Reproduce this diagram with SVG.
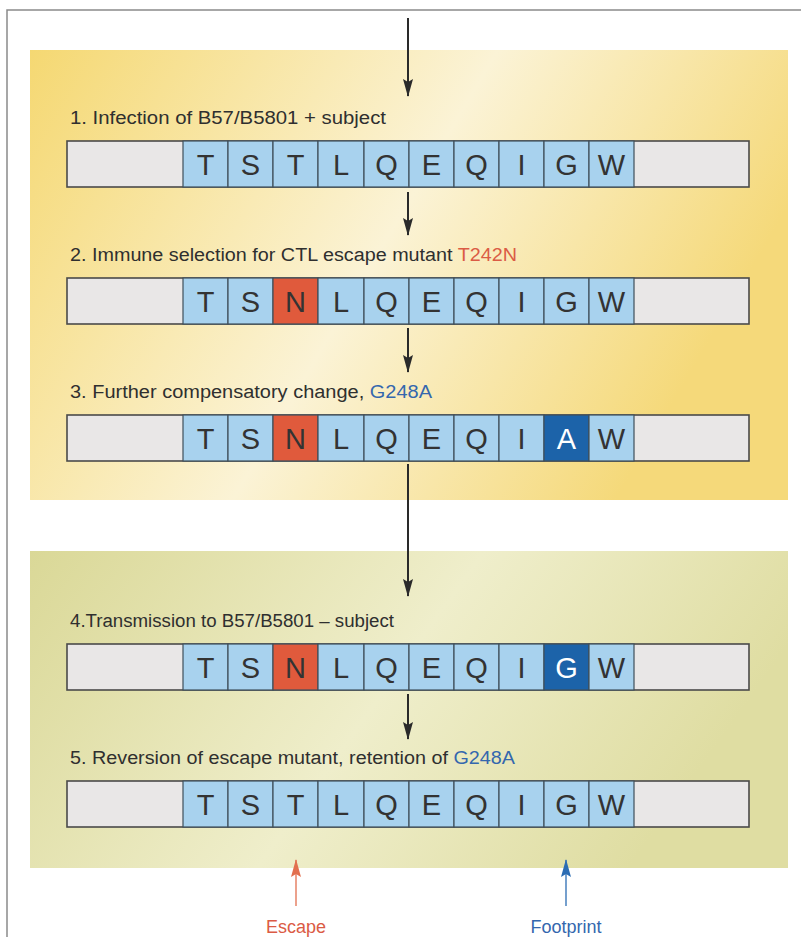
<svg xmlns="http://www.w3.org/2000/svg" width="801" height="937" viewBox="0 0 801 937">
<defs>
<linearGradient id="gY" x1="0" y1="0" x2="1" y2="0.35">
<stop offset="0" stop-color="#F5D872"/>
<stop offset="0.55" stop-color="#FBF3D6"/>
<stop offset="1" stop-color="#F5D97A"/>
</linearGradient>
<linearGradient id="gG" x1="0" y1="0" x2="1" y2="0.3">
<stop offset="0" stop-color="#DAD897"/>
<stop offset="0.55" stop-color="#EFEECB"/>
<stop offset="1" stop-color="#DFDDA2"/>
</linearGradient>
<marker id="ah" markerUnits="userSpaceOnUse" markerWidth="18" markerHeight="10" refX="17" refY="5" orient="auto" viewBox="0 0 18 10">
<path d="M0,0 L18,5 L0,10 L3,5 Z" fill="#2a2a2a"/>
</marker>
<marker id="ahR" markerUnits="userSpaceOnUse" markerWidth="18" markerHeight="10" refX="17" refY="5" orient="auto" viewBox="0 0 18 10">
<path d="M0,0 L18,5 L0,10 L3,5 Z" fill="#E26F4F"/>
</marker>
<marker id="ahB" markerUnits="userSpaceOnUse" markerWidth="18" markerHeight="10" refX="17" refY="5" orient="auto" viewBox="0 0 18 10">
<path d="M0,0 L18,5 L0,10 L3,5 Z" fill="#2B6CB3"/>
</marker>
</defs>
<style>
.frame{stroke:#8a8a8a;stroke-width:1.5;fill:none}
.gray{fill:#E9E7E7;stroke:#4a4a4a;stroke-width:1.6}
.cell{fill:#A8D2EE;stroke:#3f4f5a;stroke-width:1.2}
.esc{fill:#E05A3C;stroke:#3f4f5a;stroke-width:1.2}
.fp{fill:#1C63A9;stroke:#3f4f5a;stroke-width:1.2}
.aa{font-family:"Liberation Sans","DejaVu Sans",sans-serif;font-size:29px;fill:#333;text-anchor:middle}
.aw{fill:#ffffff}
.lab{font-family:"Liberation Sans Narrow","Liberation Sans",sans-serif;font-size:18px;fill:#2f2f2f}
.red{fill:#DB5B45}
.blue{fill:#3467AE}
.conn{stroke:#2a2a2a;stroke-width:2;fill:none;marker-end:url(#ah)}
.bot{font-family:"Liberation Sans","DejaVu Sans",sans-serif;font-size:18px;text-anchor:middle}
</style>
<path class="frame" d="M7,937 V10 H801"/>
<rect x="30" y="50" width="758" height="450" fill="url(#gY)"/>
<rect x="30" y="551" width="758" height="317" fill="url(#gG)"/>

<g id="connectors">
<path class="conn" d="M408,18 V96"/>
<path class="conn" d="M408,192 V235"/>
<path class="conn" d="M408,328 V372"/>
<path class="conn" d="M408,464 V596"/>
<path class="conn" d="M408,694 V739"/>
<path d="M296,906 V860" stroke="#E26F4F" stroke-width="1.3" fill="none" marker-end="url(#ahR)"/>
<path d="M566,906 V860" stroke="#2B6CB3" stroke-width="1.3" fill="none" marker-end="url(#ahB)"/>
</g>

<g id="step1">
<text class="lab" x="70" y="124" textLength="316" lengthAdjust="spacingAndGlyphs">1. Infection of B57/B5801 + subject</text>
<rect class="gray" x="67" y="141" width="682" height="46"/>
<rect class="cell" x="183" y="141" width="45" height="46"/><rect class="cell" x="228" y="141" width="45" height="46"/><rect class="cell" x="273" y="141" width="45" height="46"/><rect class="cell" x="318" y="141" width="46" height="46"/><rect class="cell" x="364" y="141" width="45" height="46"/><rect class="cell" x="409" y="141" width="45" height="46"/><rect class="cell" x="454" y="141" width="45" height="46"/><rect class="cell" x="499" y="141" width="45" height="46"/><rect class="cell" x="544" y="141" width="45" height="46"/><rect class="cell" x="589" y="141" width="45" height="46"/>
<text class="aa" y="175"><tspan x="205.5">T</tspan><tspan x="250.5">S</tspan><tspan x="295.5">T</tspan><tspan x="341">L</tspan><tspan x="386.5">Q</tspan><tspan x="431.5">E</tspan><tspan x="476.5">Q</tspan><tspan x="521.5">I</tspan><tspan x="566.5">G</tspan><tspan x="611.5">W</tspan></text>
</g>

<g id="step2">
<text class="lab" x="70" y="261" textLength="447" lengthAdjust="spacingAndGlyphs">2. Immune selection for CTL escape mutant <tspan class="red">T242N</tspan></text>
<rect class="gray" x="67" y="278" width="682" height="46"/>
<rect class="cell" x="183" y="278" width="45" height="46"/><rect class="cell" x="228" y="278" width="45" height="46"/><rect class="esc" x="273" y="278" width="45" height="46"/><rect class="cell" x="318" y="278" width="46" height="46"/><rect class="cell" x="364" y="278" width="45" height="46"/><rect class="cell" x="409" y="278" width="45" height="46"/><rect class="cell" x="454" y="278" width="45" height="46"/><rect class="cell" x="499" y="278" width="45" height="46"/><rect class="cell" x="544" y="278" width="45" height="46"/><rect class="cell" x="589" y="278" width="45" height="46"/>
<text class="aa" y="312"><tspan x="205.5">T</tspan><tspan x="250.5">S</tspan><tspan x="295.5">N</tspan><tspan x="341">L</tspan><tspan x="386.5">Q</tspan><tspan x="431.5">E</tspan><tspan x="476.5">Q</tspan><tspan x="521.5">I</tspan><tspan x="566.5">G</tspan><tspan x="611.5">W</tspan></text>
</g>

<g id="step3">
<text class="lab" x="70" y="398" textLength="362" lengthAdjust="spacingAndGlyphs">3. Further compensatory change, <tspan class="blue">G248A</tspan></text>
<rect class="gray" x="67" y="415" width="682" height="46"/>
<rect class="cell" x="183" y="415" width="45" height="46"/><rect class="cell" x="228" y="415" width="45" height="46"/><rect class="esc" x="273" y="415" width="45" height="46"/><rect class="cell" x="318" y="415" width="46" height="46"/><rect class="cell" x="364" y="415" width="45" height="46"/><rect class="cell" x="409" y="415" width="45" height="46"/><rect class="cell" x="454" y="415" width="45" height="46"/><rect class="cell" x="499" y="415" width="45" height="46"/><rect class="fp" x="544" y="415" width="45" height="46"/><rect class="cell" x="589" y="415" width="45" height="46"/>
<text class="aa" y="449"><tspan x="205.5">T</tspan><tspan x="250.5">S</tspan><tspan x="295.5">N</tspan><tspan x="341">L</tspan><tspan x="386.5">Q</tspan><tspan x="431.5">E</tspan><tspan x="476.5">Q</tspan><tspan x="521.5">I</tspan><tspan x="566.5" class="aw">A</tspan><tspan x="611.5">W</tspan></text>
</g>

<g id="step4">
<text class="lab" x="70" y="627" textLength="324" lengthAdjust="spacingAndGlyphs">4.Transmission to B57/B5801 – subject</text>
<rect class="gray" x="67" y="644" width="682" height="46"/>
<rect class="cell" x="183" y="644" width="45" height="46"/><rect class="cell" x="228" y="644" width="45" height="46"/><rect class="esc" x="273" y="644" width="45" height="46"/><rect class="cell" x="318" y="644" width="46" height="46"/><rect class="cell" x="364" y="644" width="45" height="46"/><rect class="cell" x="409" y="644" width="45" height="46"/><rect class="cell" x="454" y="644" width="45" height="46"/><rect class="cell" x="499" y="644" width="45" height="46"/><rect class="fp" x="544" y="644" width="45" height="46"/><rect class="cell" x="589" y="644" width="45" height="46"/>
<text class="aa" y="678"><tspan x="205.5">T</tspan><tspan x="250.5">S</tspan><tspan x="295.5">N</tspan><tspan x="341">L</tspan><tspan x="386.5">Q</tspan><tspan x="431.5">E</tspan><tspan x="476.5">Q</tspan><tspan x="521.5">I</tspan><tspan x="566.5" class="aw">G</tspan><tspan x="611.5">W</tspan></text>
</g>

<g id="step5">
<text class="lab" x="70" y="764" textLength="445" lengthAdjust="spacingAndGlyphs">5. Reversion of escape mutant, retention of <tspan class="blue">G248A</tspan></text>
<rect class="gray" x="67" y="781" width="682" height="46"/>
<rect class="cell" x="183" y="781" width="45" height="46"/><rect class="cell" x="228" y="781" width="45" height="46"/><rect class="cell" x="273" y="781" width="45" height="46"/><rect class="cell" x="318" y="781" width="46" height="46"/><rect class="cell" x="364" y="781" width="45" height="46"/><rect class="cell" x="409" y="781" width="45" height="46"/><rect class="cell" x="454" y="781" width="45" height="46"/><rect class="cell" x="499" y="781" width="45" height="46"/><rect class="cell" x="544" y="781" width="45" height="46"/><rect class="cell" x="589" y="781" width="45" height="46"/>
<text class="aa" y="815"><tspan x="205.5">T</tspan><tspan x="250.5">S</tspan><tspan x="295.5">T</tspan><tspan x="341">L</tspan><tspan x="386.5">Q</tspan><tspan x="431.5">E</tspan><tspan x="476.5">Q</tspan><tspan x="521.5">I</tspan><tspan x="566.5">G</tspan><tspan x="611.5">W</tspan></text>
</g>

<g id="escape">
<text class="bot" x="296" y="933" fill="#DB5B45">Escape</text>
</g>
<g id="footprint">
<text class="bot" x="566" y="933" fill="#3467AE">Footprint</text>
</g>
</svg>
